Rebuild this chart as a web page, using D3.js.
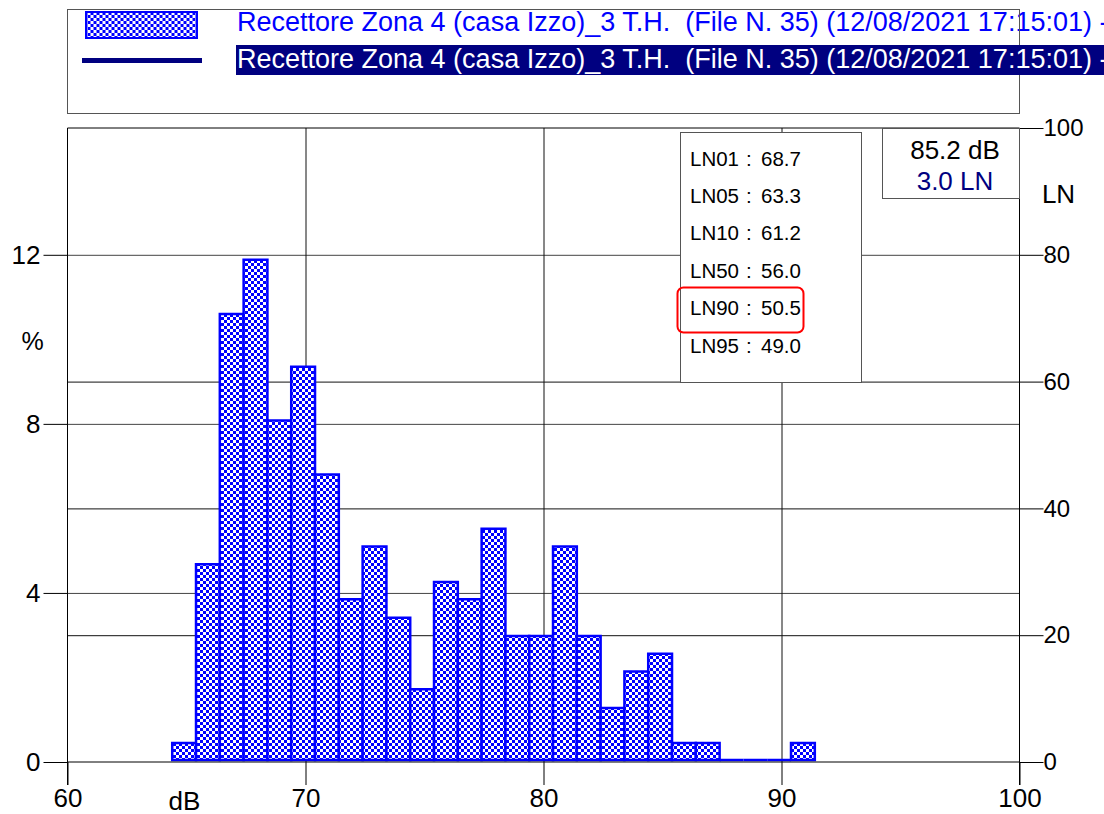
<!DOCTYPE html>
<html>
<head>
<meta charset="utf-8">
<script src="https://cdn.jsdelivr.net/npm/d3@7"></script>
<style>
  body { margin: 0; background: #fff; }
  text { font-family: "Liberation Sans", Arial, sans-serif; }
</style>
</head>
<body>
<svg id="viz" width="1104" height="814"></svg>
<script>
// level classes (dB, left edge of each 1 dB bin before offset) and percent of time
var levels = [64, 65, 66, 67, 68, 69, 70, 71, 72, 73, 74, 75, 76, 77, 78, 79, 80, 81, 82, 83, 84, 85, 86, 87, 88, 89, 90];
var percents = [0.45, 4.68, 10.6, 11.88, 8.08, 9.35, 6.8, 3.85, 5.1, 3.41, 1.72, 4.26, 3.85, 5.52, 2.98, 2.98, 5.1, 2.98, 1.28, 2.14, 2.56, 0.45, 0.45, 0, 0, 0, 0.45];

var lnLabels = ["LN01", "LN05", "LN10", "LN50", "LN90", "LN95"];
var lnValues = ["68.7", "63.3", "61.2", "56.0", "50.5", "49.0"];

var xTicks = [60, 70, 80, 90, 100];
var pctTicks = [0, 4, 8, 12];
var lnTicks = [0, 20, 40, 60, 80, 100];

var seriesName = "Recettore Zona 4 (casa Izzo)_3 T.H.  (File N. 35) (12/08/2021 17:15:01) -";
var cursorLevel = "85.2 dB";
var cursorLN = "3.0 LN";

function drawChart() {
  var svg = d3.select("#viz");
  var margin = { top: 128, left: 67.5, bottom: 52, right: 84.5 };
  var width = +svg.attr("width") - margin.left - margin.right;
  var height = +svg.attr("height") - margin.top - margin.bottom;
  var blue = "#0000ff";
  var navy = "#000080";
  var binOffset = 0.4;

  var x = d3.scaleLinear().domain([60, 100]).range([0, width]);
  var yPct = d3.scaleLinear().domain([0, 15]).range([height, 0]);
  var yLN = d3.scaleLinear().domain([0, 100]).range([height, 0]);

  // checker fill
  var pat = svg
    .append("defs")
    .append("pattern")
    .attr("id", "checker")
    .attr("patternUnits", "userSpaceOnUse")
    .attr("x", 0.5)
    .attr("width", 6)
    .attr("height", 6);
  pat.append("rect").attr("width", 6).attr("height", 6).attr("fill", "#fff");
  pat.append("rect").attr("width", 3).attr("height", 3).attr("fill", blue);
  pat.append("rect").attr("x", 3).attr("y", 3).attr("width", 3).attr("height", 3).attr("fill", blue);
  pat.selectAll("rect").attr("shape-rendering", "crispEdges");

  // legend
  var legend = svg.append("g");
  legend
    .append("rect")
    .attr("x", 86)
    .attr("y", 12)
    .attr("width", 111)
    .attr("height", 26)
    .attr("fill", "url(#checker)")
    .attr("stroke", blue)
    .attr("stroke-width", 2);
  legend
    .append("text")
    .attr("x", 237)
    .attr("y", 31)
    .attr("fill", blue)
    .style("font-size", "27px")
    .style("white-space", "pre")
    .text(seriesName);
  legend
    .append("rect")
    .attr("x", 67.5)
    .attr("y", 9.5)
    .attr("width", width)
    .attr("height", 104)
    .attr("fill", "none")
    .attr("stroke", "#555");
  legend
    .append("line")
    .attr("x1", 82)
    .attr("x2", 202)
    .attr("y1", 60.5)
    .attr("y2", 60.5)
    .attr("stroke", navy)
    .attr("stroke-width", 5);
  legend
    .append("rect")
    .attr("x", 236)
    .attr("y", 45)
    .attr("width", 880)
    .attr("height", 30)
    .attr("fill", navy);
  legend
    .append("text")
    .attr("x", 237)
    .attr("y", 68)
    .attr("fill", "#fff")
    .style("font-size", "27px")
    .style("white-space", "pre")
    .text(seriesName);

  var chart = svg
    .append("g")
    .attr("transform", "translate(" + margin.left + "," + margin.top + ")");

  // grid
  chart
    .append("g")
    .call(d3.axisLeft(yPct).tickValues([4, 8, 12]).tickSize(-width).tickFormat(""))
    .call((g) => g.select(".domain").remove())
    .selectAll("line")
    .attr("stroke", "#444");
  chart
    .append("g")
    .call(d3.axisLeft(yLN).tickValues([20, 40, 60]).tickSize(-width).tickFormat(""))
    .call((g) => g.select(".domain").remove())
    .selectAll("line")
    .attr("stroke", "#111");
  chart
    .append("g")
    .attr("transform", "translate(0," + height + ")")
    .call(d3.axisBottom(x).tickValues([70, 80, 90]).tickSize(-height).tickFormat(""))
    .call((g) => g.select(".domain").remove())
    .selectAll("line")
    .attr("stroke", "#111");

  // bars
  chart
    .selectAll(".bar")
    .data(levels)
    .enter()
    .append("path")
    .attr("class", "bar")
    .attr("fill", "url(#checker)")
    .attr("stroke", blue)
    .attr("stroke-width", 2.5)
    .attr("d", function (d, i) {
      var x0 = x(d + binOffset);
      var x1 = x(d + 1 + binOffset);
      var y0 = yPct(0) - 2;
      var yt = Math.min(yPct(percents[i]), y0);
      return "M" + x0 + "," + y0 + "V" + yt + "H" + x1 + "V" + y0 + "Z";
    });

  // axes
  chart
    .append("g")
    .attr("class", "axis big")
    .call(d3.axisLeft(yPct).tickValues(pctTicks).tickSize(24).tickPadding(3));
  chart
    .append("g")
    .attr("class", "axis")
    .attr("transform", "translate(" + width + ",0)")
    .call(d3.axisRight(yLN).tickValues(lnTicks).tickSize(24).tickPadding(0));
  chart
    .append("g")
    .attr("class", "axis big")
    .attr("transform", "translate(0," + height + ")")
    .call(d3.axisBottom(x).tickValues(xTicks).tickSize(23).tickPadding(4));
  chart.selectAll(".axis .domain").remove();
  chart.selectAll(".axis line").attr("stroke", "#000");
  chart
    .selectAll(".axis text")
    .attr("fill", "#000")
    .style("font-size", "24px")
    .style("font-family", '"Liberation Sans", Arial, sans-serif');
  chart.selectAll(".big text").style("font-size", "26px");

  // frame
  chart
    .append("path")
    .attr("fill", "none")
    .attr("stroke", "#000")
    .attr("d", "M0," + (height + 23) + "V0H" + width + "V" + (height + 23) + "M0," + height + "H" + width);

  // axis titles
  chart
    .append("text")
    .attr("x", -35)
    .attr("y", yPct(9.75))
    .style("text-anchor", "middle")
    .style("font-size", "25px")
    .text("%");
  chart
    .append("text")
    .attr("x", width + 39)
    .attr("y", yLN(88.2))
    .style("text-anchor", "middle")
    .style("font-size", "26px")
    .text("LN");
  chart
    .append("text")
    .attr("x", x(65) - 2)
    .attr("y", height + 48)
    .style("text-anchor", "middle")
    .style("font-size", "26px")
    .text("dB");

  // percentile box
  var box = svg.append("g");
  box
    .append("rect")
    .attr("x", 680.5)
    .attr("y", 132.5)
    .attr("width", 181)
    .attr("height", 250)
    .attr("fill", "#fff")
    .attr("stroke", "#555");
  var rows = box
    .selectAll(".ln")
    .data(lnLabels)
    .enter()
    .append("g")
    .attr("class", "ln")
    .attr("transform", function (d, i) {
      return "translate(0," + (165.5 + i * 37.4) + ")";
    })
    .style("font-size", "20.5px");
  rows.append("text").attr("x", 690).text(function (d) { return d; });
  rows.append("text").attr("x", 746).text(":");
  rows.append("text").attr("x", 761).text(function (d, i) { return lnValues[i]; });
  box
    .append("rect")
    .attr("x", 677.5)
    .attr("y", 287.5)
    .attr("width", 126)
    .attr("height", 45)
    .attr("rx", 6)
    .attr("fill", "none")
    .attr("stroke", "#ff0000")
    .attr("stroke-width", 2);

  // cursor box
  var cur = svg.append("g");
  cur
    .append("rect")
    .attr("x", 882.5)
    .attr("y", 128.5)
    .attr("width", 137)
    .attr("height", 70)
    .attr("fill", "#fff")
    .attr("stroke", "#555");
  cur
    .append("text")
    .attr("x", 955)
    .attr("y", 159)
    .style("text-anchor", "middle")
    .style("font-size", "26px")
    .text(cursorLevel);
  cur
    .append("text")
    .attr("x", 955)
    .attr("y", 190)
    .attr("fill", navy)
    .style("text-anchor", "middle")
    .style("font-size", "26px")
    .text(cursorLN);
}

drawChart();
</script>
</body>
</html>
